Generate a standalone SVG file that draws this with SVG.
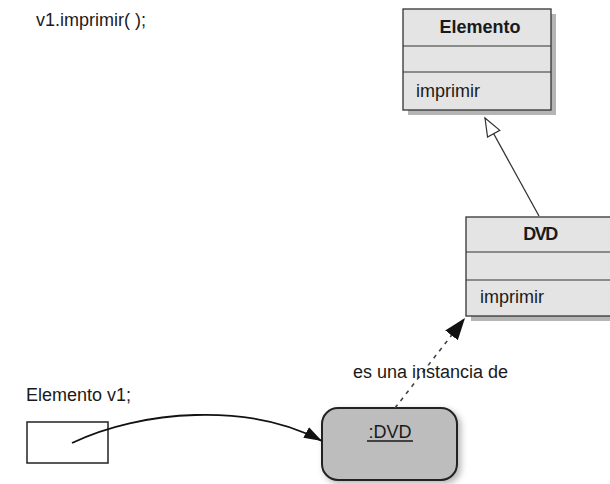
<svg xmlns="http://www.w3.org/2000/svg" width="610" height="484" viewBox="0 0 610 484">
<style>
text{font-family:"Liberation Sans",Arial,sans-serif;fill:#1a1a1a}
.cls{fill:#e4e4e4;stroke:#333;stroke-width:1.3}
.shd{fill:#b5b5b5}
.div{stroke:#333;stroke-width:1.2}
.t16{font-size:18px}
.b{font-weight:bold}
</style>
<defs>
<marker id="tri" markerWidth="22" markerHeight="18" refX="19" refY="9" orient="auto" markerUnits="userSpaceOnUse">
<path d="M1,2 L19,9 L1,16 Z" fill="#fff" stroke="#333" stroke-width="1.2"/>
</marker>
<marker id="fill" markerWidth="24" markerHeight="18" refX="22" refY="9" orient="auto" markerUnits="userSpaceOnUse">
<path d="M0,1 L22,9 L0,17 Z" fill="#111"/>
</marker>
<marker id="arr" markerWidth="20" markerHeight="14" refX="18" refY="7" orient="auto" markerUnits="userSpaceOnUse">
<path d="M0,1 L18,7 L0,13 Z" fill="#111"/>
</marker>
<filter id="blur" x="-20%" y="-20%" width="140%" height="140%"><feGaussianBlur stdDeviation="3"/></filter>
</defs>
<rect width="610" height="484" fill="#fff"/>
<text x="36" y="26" class="t16">v1.imprimir( );</text>
<g id="elemento">
<rect x="408" y="14" width="148" height="101" class="shd"/>
<rect x="403" y="9" width="148" height="101" class="cls"/>
<line x1="403" y1="46" x2="551" y2="46" class="div"/>
<line x1="403" y1="72" x2="551" y2="72" class="div"/>
<text x="480" y="33" text-anchor="middle" class="t16 b">Elemento</text>
<text x="416" y="97" class="t16">imprimir</text>
</g>
<g id="dvd">
<rect x="471" y="222" width="150" height="99" class="shd"/>
<rect x="466" y="217" width="150" height="99" class="cls"/>
<line x1="466" y1="252" x2="616" y2="252" class="div"/>
<line x1="466" y1="280" x2="616" y2="280" class="div"/>
<text x="540" y="240" text-anchor="middle" class="t16 b" letter-spacing="-1.5">DVD</text>
<text x="480" y="303" class="t16">imprimir</text>
</g>
<g id="dvd-instance">
<rect x="324" y="410" width="137" height="74" rx="16" fill="#999" filter="url(#blur)" opacity="0.7"/>
<rect x="322" y="408" width="135" height="72" rx="16" fill="#bdbdbd" stroke="#222" stroke-width="2"/>
<text x="390" y="438" text-anchor="middle" class="t16">:DVD</text>
<line x1="367" y1="441" x2="413" y2="441" stroke="#1a1a1a" stroke-width="1.4"/>
</g>
<g id="v1">
<text x="26" y="401" class="t16">Elemento v1;</text>
<rect x="27" y="422" width="81" height="41" fill="#fff" stroke="#222" stroke-width="1.5"/>
</g>
<g id="connectors">
<line x1="539" y1="216" x2="485" y2="118" stroke="#333" stroke-width="1.3" marker-end="url(#tri)"/>
<line x1="395" y1="408" x2="465" y2="318" stroke="#444" stroke-width="1.6" stroke-dasharray="4,5" marker-end="url(#fill)"/>
<path d="M72,443 C140,410 250,402 322,441" fill="none" stroke="#111" stroke-width="1.8" marker-end="url(#arr)"/>
<text x="353" y="378" class="t16">es una instancia de</text>
</g>
</svg>
